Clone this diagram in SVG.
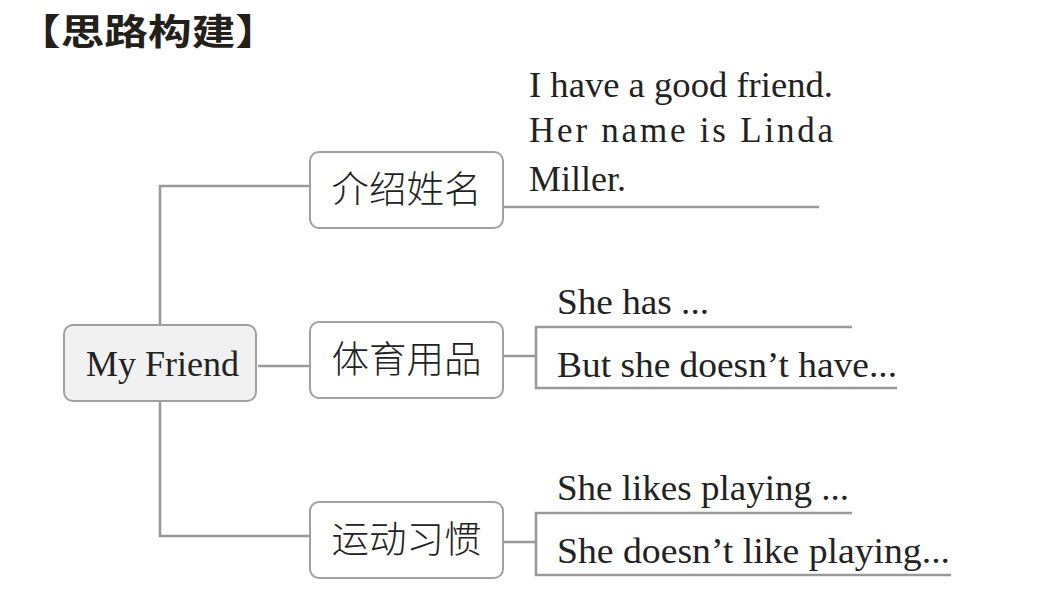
<svg xmlns="http://www.w3.org/2000/svg" width="1042" height="590" viewBox="0 0 1042 590">
<style>
.bg{fill:#ffffff}
.box{fill:#ffffff;stroke:#a0a0a0;stroke-width:2}
.root{fill:#f1f1f1;stroke:#a0a0a0;stroke-width:2}
.ln{fill:none;stroke:#999999;stroke-width:2.5}
.cn{font-family:"Noto Sans CJK SC","Noto Sans CJK JP",sans-serif;font-size:37px;font-weight:300;fill:#222222;text-anchor:middle}
.en{font-family:"Liberation Serif","DejaVu Serif",serif;font-size:35px;fill:#222222}
.title{font-family:"Noto Sans CJK SC",sans-serif;font-size:36px;font-weight:700;fill:#231f1a}
</style>
<rect class="bg" x="0" y="0" width="1042" height="590"/>
<text class="title" x="17" y="45" textLength="262" lengthAdjust="spacingAndGlyphs">【思路构建】</text>
<g id="connectors">
<polyline class="ln" points="310,186 160,186 160,325"/>
<polyline class="ln" points="160,401 160,536 310,536"/>
<line class="ln" x1="258" y1="366" x2="310" y2="366"/>
<line class="ln" x1="503" y1="207" x2="819" y2="207"/>
<line class="ln" x1="503" y1="356" x2="536" y2="356"/>
<polyline class="ln" points="852,327 536,327 536,388 897,388"/>
<line class="ln" x1="503" y1="542" x2="536" y2="542"/>
<polyline class="ln" points="852,513 536,513 536,575 951,575"/>
</g>
<g id="root">
<rect class="root" x="64" y="325" width="192" height="76" rx="9"/>
<text class="en" x="86" y="376" textLength="153" lengthAdjust="spacingAndGlyphs">My Friend</text>
</g>
<g id="node-name">
<rect class="box" x="310" y="152" width="193" height="76" rx="9"/>
<text class="cn" x="406.5" y="203" textLength="150" lengthAdjust="spacingAndGlyphs">介绍姓名</text>
</g>
<g id="node-sports">
<rect class="box" x="310" y="322" width="193" height="76" rx="9"/>
<text class="cn" x="406.5" y="373" textLength="150" lengthAdjust="spacingAndGlyphs">体育用品</text>
</g>
<g id="node-habits">
<rect class="box" x="310" y="502" width="193" height="76" rx="9"/>
<text class="cn" x="406.5" y="553" textLength="150" lengthAdjust="spacingAndGlyphs">运动习惯</text>
</g>
<g id="text-name">
<text class="en" x="529" y="97" textLength="304" lengthAdjust="spacingAndGlyphs">I have a good friend.</text>
<text class="en" x="529" y="142" textLength="304" lengthAdjust="spacing">Her name is Linda</text>
<text class="en" x="529" y="191" textLength="97" lengthAdjust="spacingAndGlyphs">Miller.</text>
</g>
<g id="text-sports">
<text class="en" x="557" y="314" textLength="152" lengthAdjust="spacingAndGlyphs">She has ...</text>
<text class="en" x="557" y="377" textLength="340" lengthAdjust="spacingAndGlyphs">But she doesn’t have...</text>
</g>
<g id="text-habits">
<text class="en" x="557" y="500" textLength="292" lengthAdjust="spacingAndGlyphs">She likes playing ...</text>
<text class="en" x="557" y="563" textLength="393" lengthAdjust="spacingAndGlyphs">She doesn’t like playing...</text>
</g>
</svg>
